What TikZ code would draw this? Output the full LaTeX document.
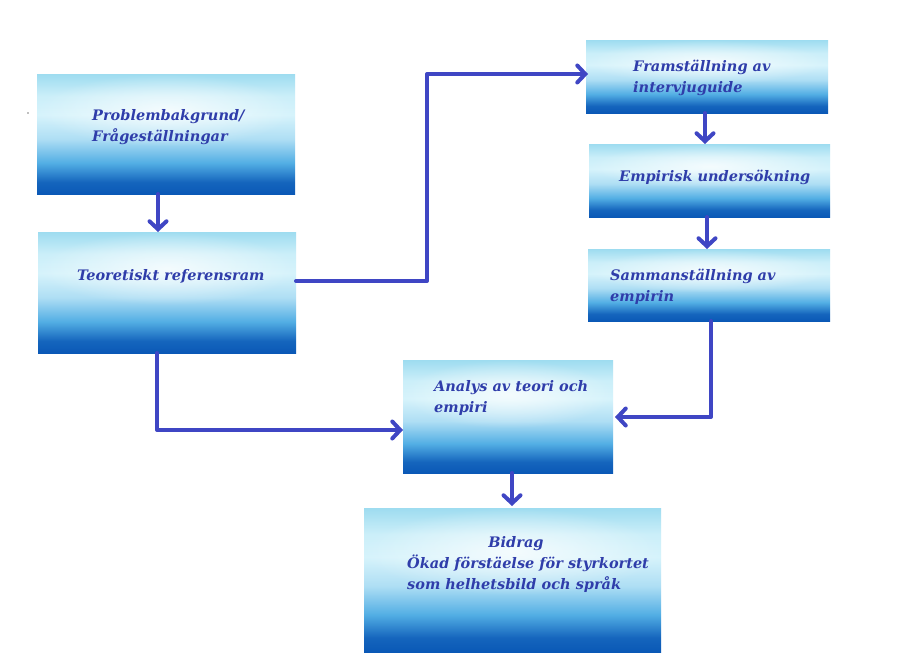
\documentclass[tikz,border=0pt]{standalone}
\usepackage{fontspec}
\setmainfont{DejaVu Serif}
\usetikzlibrary{arrows.meta,fadings,calc}
\definecolor{linec}{HTML}{3F46C4}
\definecolor{textc}{HTML}{2F3DAA}
\definecolor{btop}{HTML}{9EDCF0}
\definecolor{bwhite}{HTML}{D6F3FB}
\definecolor{bmid}{HTML}{52AEE4}
\definecolor{bbot}{HTML}{0A58B6}
\pgfdeclareverticalshading{boxshade}{100bp}{color(0bp)=(bbot); color(25bp)=(bbot); color(30bp)=(bbot!85!bmid); color(38bp)=(bmid); color(48bp)=(bwhite!70!bmid); color(58bp)=(bwhite); color(66bp)=(bwhite!80!btop); color(75bp)=(btop); color(100bp)=(btop)}
\tikzfading[name=glow, inner color=transparent!25, outer color=transparent!100]
\tikzset{
  box/.style={draw=none, shading=boxshade, minimum width=#1, inner sep=0pt, anchor=north west},
  lbl/.style={text=textc, font=\fontsize{14.5}{21}\selectfont\bfseries\itshape, align=left, anchor=west, inner sep=0pt},
  conn/.style={draw=linec, line width=4pt, line cap=round, line join=round, -{Straight Barb[length=8pt,width=17pt,line cap=round]}},
  glowfill/.style={fill=white, path fading=glow}
}
\newcommand{\boxglow}[1]{\fill[glowfill] (#1.north west) rectangle ($(#1.south east)!0.4!(#1.north east)$);}
\begin{document}
\begin{tikzpicture}[x=1pt,y=-1pt]
\useasboundingbox (0,0) rectangle (923,655);
\fill[white] (0,0) rectangle (923,655);
% boxes
\node[box=258pt, minimum height=120pt] (b1) at (37,74) {};
\node[box=258pt, minimum height=121pt] (b2) at (38,232) {};
\node[box=242pt, minimum height=73pt] (b3) at (586,40) {};
\node[box=241pt, minimum height=73pt] (b4) at (589,144) {};
\node[box=242pt, minimum height=72pt] (b5) at (588,249) {};
\node[box=210pt, minimum height=113pt] (b6) at (403,360) {};
\node[box=297pt, minimum height=144pt] (b7) at (364,508) {};
\boxglow{b1}\boxglow{b2}\boxglow{b3}\boxglow{b4}\boxglow{b5}\boxglow{b6}\boxglow{b7}
% labels
\node[lbl] (t1) at (92,127) {Problembakgrund/\\Frågeställningar};
\node[lbl] (t2) at (77,276) {Teoretiskt referensram};
\node[lbl] (t3) at (633,78) {Framställning av\\intervjuguide};
\node[lbl] (t4) at (619,177) {Empirisk undersökning};
\node[lbl] (t5) at (610,287) {Sammanställning av\\empirin};
\node[lbl] (t6) at (434,398) {Analys av teori och\\empiri};
\node[lbl, align=center, anchor=center] (t7h) at (516,544) {Bidrag};
\node[lbl] (t7) at (407,574) {Ökad förstäelse för styrkortet\\som helhetsbild och språk};
% tiny dot
\fill[gray] (28,113) circle (0.8pt);
% coordinates
\coordinate (c1a) at (158,194);
\coordinate (c1b) at (158,232);
\coordinate (c2a) at (296,281);
\coordinate (c2b) at (427,281);
\coordinate (c2c) at (427,74);
\coordinate (c2d) at (588,74);
\coordinate (c3a) at (705,113);
\coordinate (c3b) at (705,144);
\coordinate (c4a) at (707,217);
\coordinate (c4b) at (707,249);
\coordinate (c5a) at (711,321);
\coordinate (c5b) at (711,417);
\coordinate (c5c) at (615,417);
\coordinate (c6a) at (157,353);
\coordinate (c6b) at (157,430);
\coordinate (c6c) at (403,430);
\coordinate (c7a) at (512,473);
\coordinate (c7b) at (512,506);
% connectors
\draw[conn] (c1a) -- (c1b);
\draw[conn] (c2a) -- (c2b) -- (c2c) -- (c2d);
\draw[conn] (c3a) -- (c3b);
\draw[conn] (c4a) -- (c4b);
\draw[conn] (c5a) -- (c5b) -- (c5c);
\draw[conn] (c6a) -- (c6b) -- (c6c);
\draw[conn] (c7a) -- (c7b);
\end{tikzpicture}
\end{document}
